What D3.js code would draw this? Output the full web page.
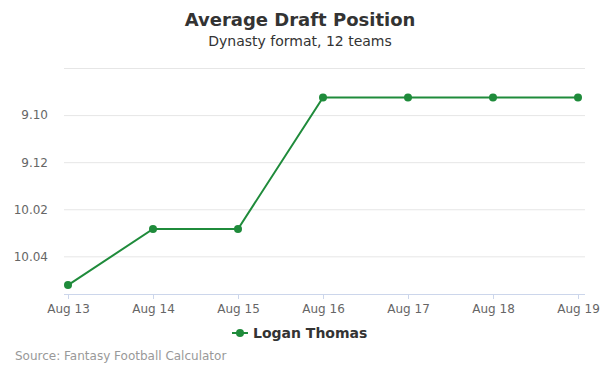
<!DOCTYPE html>
<html>
<head>
<meta charset="utf-8">
<script src="https://cdn.jsdelivr.net/npm/d3@7"></script>
<style>
  body { margin: 0; background: #fff; }
  svg { font-family: "DejaVu Sans", sans-serif; display: block; }
</style>
</head>
<body>
<div id="chart"></div>
<script>
// data: overall pick number (12-team league)
var dates = ["Aug 13", "Aug 14", "Aug 15", "Aug 16", "Aug 17", "Aug 18", "Aug 19"];
var picks = [113.22, 110.84, 110.84, 105.25, 105.25, 105.25, 105.25];
var tickPicks = [104, 106, 108, 110, 112];
var playerName = "Logan Thomas";

var width = 600, height = 375;
var plotLeft = 64, plotRight = 585, plotTop = 68, plotBottom = 294;
var green = "#1f8b3b";

function pickLabel(p) {
  var round = Math.floor((p - 1) / 12) + 1;
  var pk = ((p - 1) % 12) + 1;
  return round + "." + (pk < 10 ? "0" + pk : pk);
}

var svg = d3.select("#chart").append("svg")
  .attr("width", width)
  .attr("height", height);

var x = d3.scalePoint()
  .domain(dates)
  .range([68, 578]);

var y = d3.scaleLinear()
  .domain([104, 113.6])
  .range([plotTop, plotBottom]);

// gridlines + y labels
var yAxis = svg.append("g")
  .attr("transform", "translate(" + plotLeft + ",0)")
  .call(d3.axisLeft(y)
    .tickValues(tickPicks)
    .tickSize(-(plotRight - plotLeft))
    .tickPadding(16)
    .tickFormat(function(d) { return d === 104 ? "" : pickLabel(d); }));
yAxis.select(".domain").remove();
yAxis.selectAll("line").attr("stroke", "#e6e6e6");
yAxis.selectAll("text")
  .attr("fill", "#666")
  .attr("font-size", "12px")
  .attr("font-family", "DejaVu Sans, sans-serif");

// x axis
var xAxis = svg.append("g")
  .attr("transform", "translate(0," + plotBottom + ")")
  .call(d3.axisBottom(x).tickSize(5).tickPadding(5));
xAxis.select(".domain")
  .attr("d", "M" + plotLeft + ",0.5H" + plotRight)
  .attr("stroke", "#ccd6eb");
xAxis.selectAll("line").attr("stroke", "#ccd6eb");
xAxis.selectAll("text")
  .attr("fill", "#666")
  .attr("font-size", "12px")
  .attr("font-family", "DejaVu Sans, sans-serif");

// line
var line = d3.line()
  .x(function(d, i) { return x(dates[i]); })
  .y(function(d) { return y(d); });

svg.append("path")
  .datum(picks)
  .attr("fill", "none")
  .attr("stroke", green)
  .attr("stroke-width", 2)
  .attr("d", line);

svg.selectAll("circle.pt")
  .data(picks)
  .enter()
  .append("circle")
  .attr("class", "pt")
  .attr("cx", function(d, i) { return x(dates[i]); })
  .attr("cy", function(d) { return y(d); })
  .attr("r", 4)
  .attr("fill", green);

// titles
svg.append("text")
  .attr("x", 300).attr("y", 26)
  .attr("text-anchor", "middle")
  .attr("font-size", "18px")
  .attr("font-weight", "bold")
  .attr("fill", "#333")
  .text("Average Draft Position");

svg.append("text")
  .attr("x", 300).attr("y", 46)
  .attr("text-anchor", "middle")
  .attr("font-size", "14px")
  .attr("fill", "#333")
  .text("Dynasty format, 12 teams");

// legend
var lg = svg.append("g").attr("transform", "translate(232,333)");
lg.append("line")
  .attr("x1", 0).attr("x2", 16)
  .attr("y1", 0).attr("y2", 0)
  .attr("stroke", green).attr("stroke-width", 2);
lg.append("circle").attr("cx", 8).attr("cy", 0).attr("r", 4).attr("fill", green);
lg.append("text")
  .attr("x", 21).attr("y", 5)
  .attr("font-size", "14px")
  .attr("font-weight", "bold")
  .attr("fill", "#333")
  .text(playerName);

// credits
svg.append("text")
  .attr("x", 15).attr("y", 360)
  .attr("font-size", "12px")
  .attr("fill", "#999")
  .text("Source: Fantasy Football Calculator");
</script>
</body>
</html>
